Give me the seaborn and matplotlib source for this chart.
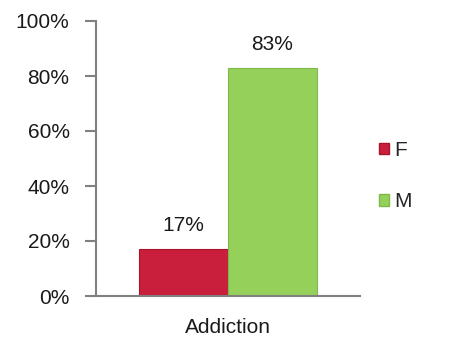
import matplotlib
matplotlib.use("Agg")
import matplotlib.pyplot as plt
import seaborn as sns
import pandas as pd
from matplotlib.patches import Patch

categories = ["Addiction"]
genders = ["F", "M"]
values = [17, 83]
yticks = [0, 20, 40, 60, 80, 100]

df = pd.DataFrame({"category": categories * len(genders), "gender": genders, "value": values})

sns.set_theme(style="white")
plt.rcParams["font.family"] = ["Liberation Sans", "DejaVu Sans"]

fig = plt.figure(figsize=(4.49, 3.38), dpi=100)
ax = fig.add_axes([96 / 449, 42 / 338, 264 / 449, 275 / 338])

palette = {"F": "#C91E3C", "M": "#95D05A"}
edges = {"F": "#A8142E", "M": "#7FB84A"}
sns.barplot(data=df, x="category", y="value", hue="gender", palette=palette,
            width=0.674, ax=ax, legend=False, saturation=1)

for bar, g in zip(ax.patches, genders):
    bar.set_edgecolor(edges[g])
    bar.set_linewidth(0.8)

for cont in ax.containers:
    ax.bar_label(cont, labels=[f"{v:.0f}%" for v in cont.datavalues],
                 padding=10, fontsize=15, color="#1a1a1a")

ax.set_xlim(-0.5, 0.5)
ax.set_ylim(0, 100)
ax.set_yticks(yticks)
ax.set_yticklabels([f"{t}%" for t in yticks], fontsize=15, color="#1a1a1a")
ax.set_xticks([0])
ax.set_xticklabels(categories, fontsize=15, color="#1a1a1a")
ax.set_xticks([-0.5, 0.5], minor=True)
ax.tick_params(axis="x", which="major", length=0, pad=16)
ax.tick_params(axis="x", which="minor", length=8, width=1.5, color="#808080", direction="out")
ax.tick_params(axis="y", length=8, width=1.5, color="#808080", direction="out", left=True, pad=11)
ax.set_xlabel("")
ax.set_ylabel("")

for s in ["top", "right"]:
    ax.spines[s].set_visible(False)
for s in ["left", "bottom"]:
    ax.spines[s].set_color("#808080")
    ax.spines[s].set_linewidth(1.5)

handles = [Patch(facecolor=palette[g], edgecolor=edges[g], label=g) for g in genders]
leg = fig.legend(handles=handles, loc="center left", bbox_to_anchor=(360 / 449, 1 - 176 / 338),
                 frameon=False, fontsize=15, handlelength=0.5, handleheight=0.5,
                 handletextpad=0.25, labelspacing=1.55)

fig.savefig("out.png", dpi=100)
